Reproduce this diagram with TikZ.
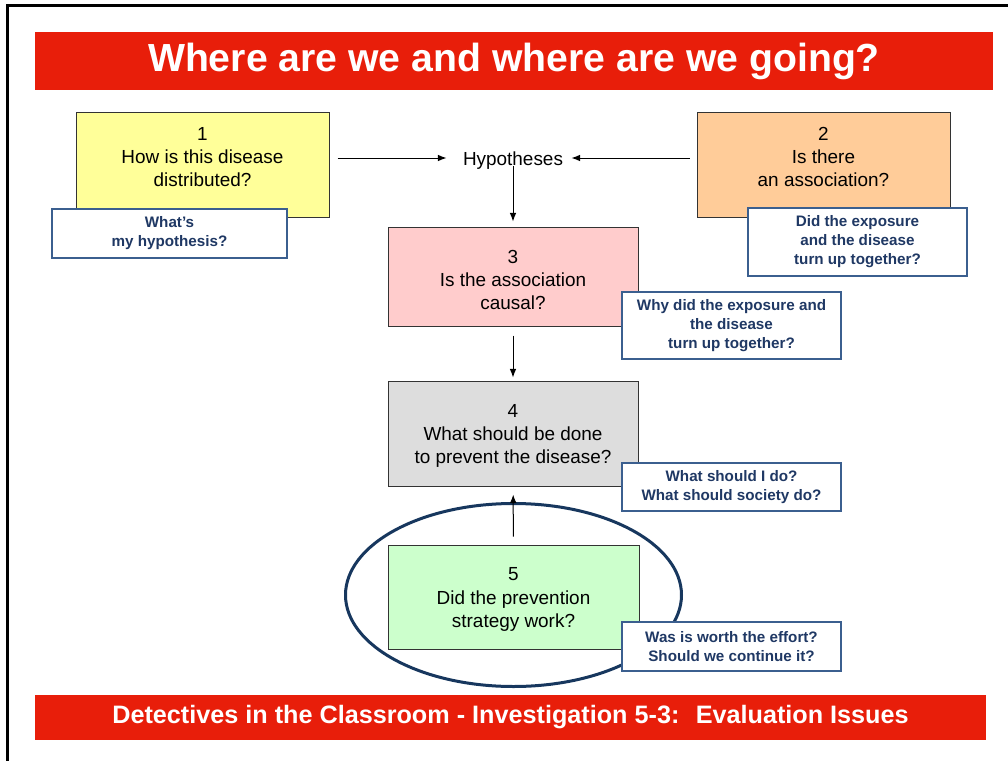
\documentclass[tikz,border=0pt]{standalone}
\usepackage{fontspec}
\setmainfont{Liberation Sans}
\usetikzlibrary{positioning, shapes.geometric, arrows.meta}

\definecolor{bannerred}{HTML}{E81E0A}
\definecolor{yellowbox}{HTML}{FFFF99}
\definecolor{orangebox}{HTML}{FFCC99}
\definecolor{pinkbox}{HTML}{FFCCCC}
\definecolor{graybox}{HTML}{DDDDDD}
\definecolor{greenbox}{HTML}{CCFFCC}
\definecolor{noteline}{HTML}{3B5F8F}
\definecolor{notetext}{HTML}{1F3864}
\definecolor{ringblue}{HTML}{17375E}

\begin{document}
\begin{tikzpicture}[x=0.75pt, y=-0.75pt, >={Latex[length=6.5pt,width=5pt]},
  stage/.style={draw=black!80, line width=0.75pt, align=center, inner sep=0pt,
    font=\fontsize{14.2}{17.5}\selectfont},
  note/.style={draw=noteline, line width=1.1pt, fill=white, text=notetext, align=center,
    inner sep=0pt, minimum width=164.25pt, font=\fontsize{11.4}{14.2}\selectfont\bfseries},
  banner/.style={fill=bannerred, text=white, inner sep=0pt, font=\bfseries}]
  \useasboundingbox (0,0) rectangle (1008,761);
  \draw[line width=2.25pt] (7,761) -- (7,5.5) -- (1008,5.5);

  \node[banner, minimum width=718.5pt, minimum height=43.5pt,
    font=\fontsize{29.4}{35}\selectfont\bfseries] (title) at (514,61)
    {Where are we and where are we going?};
  \node[banner, minimum width=713.25pt, minimum height=33.75pt,
    font=\fontsize{18.9}{22}\selectfont\bfseries] (footer) at (510.5,717.5)
    {Detectives in the Classroom - Investigation 5-3:~ Evaluation Issues};

  \node[ellipse, draw=ringblue, line width=2.25pt, minimum width=252pt,
    minimum height=137.25pt] (ring) at (513.5,595) {};

  \node[stage, fill=yellowbox, minimum width=189.75pt, minimum height=78.75pt,
    text depth=11.25pt] (q1) at (202.5,164.5) {1\\How is this disease\\distributed?};
  \node[stage, fill=orangebox, minimum width=189.75pt, minimum height=78.75pt,
    text depth=11.25pt] (q2) at (823.5,164.5) {2\\Is there\\an association?};
  \node[stage, draw=none, font=\fontsize{14.2}{17}\selectfont] (hyp) at (513,161) {Hypotheses};
  \node[stage, fill=pinkbox, minimum width=187.5pt, minimum height=74.25pt,
    text height=50.25pt] (q3) at (513,276.5) {3\\Is the association\\causal?};
  \node[stage, fill=graybox, minimum width=187.5pt, minimum height=78.75pt,
    text height=48.5pt] (q4) at (513,433.5) {4\\What should be done\\to prevent the disease?};
  \node[stage, fill=greenbox, minimum width=188.25pt, minimum height=78pt,
    text height=48.5pt] (q5) at (513.5,597) {5\\Did the prevention\\strategy work?};

  \node[note, minimum width=176.25pt, minimum height=36.75pt] (n1) at (169.5,233.5)
    {What’s\\my hypothesis?};
  \node[note, minimum height=51pt] (n2) at (857.5,242)
    {Did the exposure\\and the disease\\turn up together?};
  \node[note, minimum height=50.25pt] (n3) at (731.5,325.5)
    {Why did the exposure and\\the disease\\turn up together?};
  \node[note, minimum height=36pt] (n4) at (731.5,487)
    {What should I do?\\What should society do?};
  \node[note, minimum height=36.75pt] (n5) at (731.5,646.5)
    {Was is worth the effort?\\Should we continue it?};

  \path[->, line width=0.75pt]
  (q1.east |- 0,158) edge [shorten <=6pt, shorten >=12pt] (hyp.west |- 0,158)
  (q2.west |- 0,158) edge [shorten <=5.25pt, shorten >=6pt] (hyp.east |- 0,158)
  (hyp.base) edge [shorten >=3.75pt] (q3)
  (q3) edge [shorten <=6.75pt, shorten >=2.25pt] (q4)
  (q5) edge [shorten <=6pt, shorten >=6pt] (q4)
  ;
\end{tikzpicture}
\end{document}
